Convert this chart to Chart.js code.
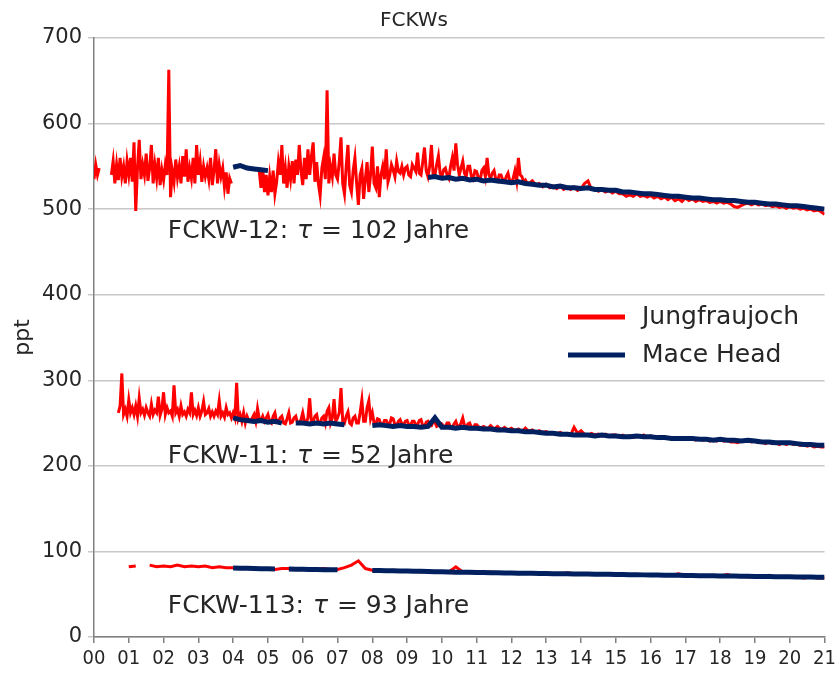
<!DOCTYPE html>
<html>
<head>
<meta charset="utf-8">
<script src="https://cdn.jsdelivr.net/npm/chart.js@4.4.0/dist/chart.umd.min.js"></script>
<style>
  html, body { margin: 0; padding: 0; background: #fff; }
</style>
</head>
<body>
<canvas id="chart" width="840" height="680"></canvas>
<script>
// tick labels for the years 2000..2021
const yearLabels = ['00','01','02','03','04','05','06','07','08','09','10',
                    '11','12','13','14','15','16','17','18','19','20','21'];

// Jungfraujoch CFC-12, noisy part: from 2000.0 every 0.05 year (one line = one year)
const jfj12aStart = 0, jfj12aStep = 0.05;
const jfj12a = [
  535, 552, 540, 548, null, null, null, null, null, null, 540, 556, 530, 552, 534, 560, 538, 550, 530, 556,
  540, 560, 532, 578, 498, 548, 581, 535, 552, 540, 565, 533, 548, 575, 530, 552, 536, 560, 528, 546,
  534, 552, 540, 663, 514, 545, 532, 558, 537, 550, 530, 562, 538, 570, 532, 548, 536, 560, 530, 575,
  540, 556, 532, 550, 538, 548, 535, 560, 528, 545, 570, 530, 552, 538, 548, 526, 543, 518, 536, 530,
  null, null, null, null, null, null, null, null, null, null, null, null, null, null, null, 545, 525, 548, 520, 540,
  516, 538, 520, 545, 518, 532, 555, 540, 575, 530, 548, 525, 550, 535, 556, 530, 558, 540, 575, 545,
  528, 560, 535, 570, 540, 562, 578, 532, 555, 530, 516, 548, 560, 535, 639, 530, 550, 538, 565, 540,
  535, 555, 584, 530, 518, 550, 575, 528, 520, 545, 560, 530, 505, 540, 548, 512, 535, 555, 520, 540,
  573, 530, 525, 550, 514, 540, 550, 535, 570, 532, 540, 552, 546, 538, 556, 544, 542, 550, 540, 548,
  550, 540, 538, 552, 548, 544, 566, 542, 540, 555, 572, 545, 538, 550, 575, 540, 540, 552, 562, 542,
  538, 546, 548, 540, 536, 550, 560, 545, 577, 552, 540, 548, 556, 542, 538, 550, 550, 538, 535, 545,
  544, 536, 534, 545, 548, 538, 560, 540, 536, 542, 545, 535, 533, 540, 540, 534, 532, 538, 542, 533,
  531, 536, 545, 533, 560, 540, 538, 532, 534, 530
];
// Jungfraujoch CFC-12, calmer part: from 2012.5 every 0.1 year
const jfj12bStart = 12.5, jfj12bStep = 0.1;
const jfj12b = [
  530, 533, 528, 530, 526,
  529, 525, 527, 524, 527, 523, 525, 523, 526, 522,
  524, 530, 533, 523, 524, 521, 523, 520, 522, 519,
  521, 518, 518, 515, 517, 515, 518, 515, 516, 514,
  516, 513, 515, 512, 514, 511, 514, 510, 512, 509,
  513, 510, 512, 509, 511, 509, 510, 508, 509, 507,
  509, 507, 508, 506, 503, 502, 504, 506, 507, 505,
  507, 505, 506, 504, 505, 503, 504, 502, 503, 501,
  503, 501, 502, 500, 501, 499, 500, 498, 499, 497,
  494
];

// Jungfraujoch CFC-11, noisy part: from 2000.0 every 0.05 year
const jfj11aStart = 0, jfj11aStep = 0.05;
const jfj11a = [
  null, null, null, null, null, null, null, null, null, null, null, null, null, null, 262, 270, 308, 260, 266, 258,
  277, 262, 268, 260, 270, 258, 279, 262, 266, 259, 268, 262, 258, 272, 260, 265, 262, 281, 259, 266,
  286, 260, 268, 262, 264, 258, 294, 262, 266, 258, 270, 260, 263, 258, 266, 262, 286, 260, 265, 259,
  268, 258, 264, 275, 260, 262, 267, 258, 263, 258, 264, 260, 276, 258, 262, 257, 268, 260, 262, 256,
  262, 256, 297, 255, 260, 252, 262, 250, 258, 253, 252, 256, 260, 252, 267, 255, 253, 258, 252, 256,
  260, 252, 250, 258, 262, 251, 252, 256, 258, 250, 249, 255, 262, 250, 251, 256, 258, 250, 250, 254,
  262, 252, 250, 256, 279, 251, 252, 258, 260, 250, 249, 256, 258, 250, 264, 268, 250, 256, 278, 252,
  256, 262, 291, 252, 250, 258, 263, 250, 248, 256, 258, 250, 250, 262, 277, 252, 252, 268, 276, 255,
  262, 250, 249, 255, 254, 248, 248, 253, 253, 249, 249, 256, 255, 248, 247, 252, 254, 249, 248, 252,
  253, 248, 247, 252, 252, 248, 248, 253, 254, 247, 246, 251, 252, 247, 247, 252, 251, 246, 247, 250,
  249, 245, 246, 250, 250, 245, 245, 249, 252, 246, 246, 250, 256, 247, 245, 249, 250, 245, 244, 248
];
// Jungfraujoch CFC-11, calmer part: from 2011.0 every 0.1 year
const jfj11bStart = 11, jfj11bStep = 0.1;
const jfj11b = [
  248, 244, 246, 243, 247, 243, 246, 242, 245, 242,
  244, 241, 243, 240, 244, 240, 242, 239, 241, 239,
  240, 238, 239, 237, 239, 237, 238, 236, 245, 238,
  241, 237, 236, 238, 236, 237, 235, 237, 235, 236,
  236, 234, 236, 234, 235, 233, 235, 234, 236, 233,
  235, 233, 234, 232, 234, 232, 233, 231, 233, 231,
  233, 231, 232, 230, 232, 230, 231, 229, 231, 229,
  231, 229, 230, 228, 228, 227, 229, 230, 229, 228,
  229, 227, 228, 226, 228, 226, 227, 225, 227, 225,
  227, 225, 226, 224, 225, 223, 224, 222, 223, 222,
  222
];

// Jungfraujoch CFC-113, from 2000.0 every 0.2 year
const jfj113Start = 0, jfj113Step = 0.2;
const jfj113 = [
  null, null, null, null, null,
  82, 83, null, 84, 82,
  83, 82, 84, 82, 83,
  82, 83, 81, 82, 81,
  81, 80, 81, 80, 80,
  80, 79, 80, 80, 79,
  79, 80, 79, 80, 79,
  79, 81, 84, 89, 80,
  78, 78, 77, 78, 77,
  77, 77, 76, 77, 76,
  76, 76, 82, 76, 75,
  75, 75, 76, 75, 75,
  75, 74, 75, 74, 75,
  74, 74, 73, 75, 74,
  73, 74, 73, 73, 74,
  73, 73, 72, 73, 72,
  72, 73, 72, 72, 74,
  72, 72, 71, 72, 71,
  71, 73, 71, 71, 70,
  71, 70, 72, 70, 70,
  70, 70, 69, 70, 69,
  69
];

// Mace Head CFC-12, from 2004.0 every 0.2 year
const mhd12Start = 4, mhd12Step = 0.2;
const mhd12 = [
  549, 551, 548, 547, 546,
  545, null, null, null, null,
  null, null, null, null, null,
  null, null, null, null, null,
  null, null, null, null, null,
  null, null, null, 537, 538,
  536, 537, 535, 536, 534,
  535, 533, 534, 533, 532,
  531, 532, 530, 529, 528,
  528, 526, 527, 525, 525,
  524, 525, 523, 523, 522,
  522, 520, 520, 519, 518,
  518, 517, 516, 515, 515,
  514, 513, 513, 512, 511,
  511, 510, 510, 509, 508,
  508, 507, 506, 506, 505,
  504, 504, 503, 502, 501,
  500
];

// Mace Head CFC-11, from 2004.0 every 0.2 year
const mhd11Start = 4, mhd11Step = 0.2;
const mhd11 = [
  256, 254, 253, 252, 253,
  251, 252, 250, null, 250,
  250, 249, 250, 249, 250,
  249, 248, null, null, null,
  247, 248, 247, 246, 247,
  246, 246, 245, 246, 256,
  245, 245, 244, 245, 244,
  244, 243, 243, 242, 242,
  241, 241, 240, 240, 239,
  238, 238, 237, 237, 236,
  236, 236, 235, 236, 235,
  235, 234, 234, 235, 234,
  234, 233, 233, 232, 232,
  232, 232, 231, 231, 230,
  231, 230, 230, 229, 230,
  229, 228, 228, 227, 227,
  227, 226, 225, 225, 224,
  224
];

// Mace Head CFC-113, from 2004.0 every 0.2 year
const mhd113Start = 4, mhd113Step = 0.2;
const mhd113 = [
  80.5, 80.3, 80.2, 80.0, 79.8,
  79.8, 79.6, null, 79.4, 79.2,
  79.1, 79.0, 78.8, 78.7, 78.6,
  78.5, null, null, null, null,
  77.8, 77.6, 77.5, 77.3, 77.1,
  77.0, 76.8, 76.7, 76.5, 76.3,
  76.2, 76.0, 75.8, 75.7, 75.6,
  75.5, 75.3, 75.2, 75.0, 74.9,
  74.8, 74.6, 74.5, 74.4, 74.3,
  74.2, 74.0, 73.9, 73.8, 73.7,
  73.6, 73.5, 73.4, 73.3, 73.2,
  73.0, 72.9, 72.8, 72.7, 72.6,
  72.5, 72.4, 72.3, 72.2, 72.1,
  72.0, 71.8, 71.7, 71.6, 71.5,
  71.4, 71.3, 71.2, 71.0, 70.9,
  70.8, 70.7, 70.6, 70.5, 70.4,
  70.3, 70.2, 70.1, 70.0, 69.9,
  69.8
];

// gas labels and lifetimes written into the plot
const gasNames = ['FCKW-12', 'FCKW-11', 'FCKW-113'];
const lifetimes = [102, 52, 93];

const RED = '#ff0000';
const NAVY = '#002060';
const TEXT = '#262626';

// one series -> {x, y} points
function toPoints(start, step, values) {
  return values.map((v, i) => ({ x: Math.round((start + i * step) * 100) / 100, y: v }));
}
// null point so separate gases don't get joined
const BREAK = { x: 21, y: null };

const redPoints = [].concat(
  toPoints(jfj12aStart, jfj12aStep, jfj12a),
  toPoints(jfj12bStart, jfj12bStep, jfj12b), [BREAK],
  toPoints(jfj11aStart, jfj11aStep, jfj11a),
  toPoints(jfj11bStart, jfj11bStep, jfj11b), [BREAK],
  toPoints(jfj113Start, jfj113Step, jfj113)
);
const bluePoints = [].concat(
  toPoints(mhd12Start, mhd12Step, mhd12), [BREAK],
  toPoints(mhd11Start, mhd11Step, mhd11), [BREAK],
  toPoints(mhd113Start, mhd113Step, mhd113)
);

// where the gas notes sit (year, ppt at text middle)
const notePos = [[2.12, 474], [2.12, 211], [2.12, 36]];

const notesPlugin = {
  id: 'notes',
  afterDatasetsDraw(chart) {
    const ctx = chart.ctx;
    const xs = chart.scales.x, ys = chart.scales.y;
    const plain = '25px "DejaVu Sans", sans-serif';
    const ital = 'italic 25px "DejaVu Sans", sans-serif';
    ctx.save();
    ctx.fillStyle = TEXT;
    ctx.textBaseline = 'middle';
    ctx.textAlign = 'left';
    gasNames.forEach((name, i) => {
      let x = xs.getPixelForValue(notePos[i][0]);
      const y = ys.getPixelForValue(notePos[i][1]);
      const parts = [[name + ': ', plain], ['\u03c4', ital], [' = ' + lifetimes[i] + ' Jahre', plain]];
      parts.forEach(([t, f]) => {
        ctx.font = f;
        ctx.fillText(t, x, y);
        x += ctx.measureText(t).width + 1;
      });
    });

    // legend inside the plot
    ctx.font = plain;
    chart.data.datasets.forEach((ds, i) => {
      const y = 317 + i * 38;
      ctx.strokeStyle = ds.borderColor;
      ctx.lineWidth = 5;
      ctx.beginPath();
      ctx.moveTo(568, y);
      ctx.lineTo(625, y);
      ctx.stroke();
      ctx.fillText(ds.label, 642, y);
    });
    ctx.restore();
  }
};

new Chart(document.getElementById('chart'), {
  type: 'line',
  data: {
    datasets: [
      { label: 'Jungfraujoch', data: redPoints, borderColor: RED, backgroundColor: RED,
        borderWidth: 3, pointRadius: 0, tension: 0, order: 2 },
      { label: 'Mace Head', data: bluePoints, borderColor: NAVY, backgroundColor: NAVY,
        borderWidth: 5, pointRadius: 0, tension: 0, order: 1 }
    ]
  },
  options: {
    responsive: false,
    animation: false,
    spanGaps: false,
    layout: { padding: { left: 0, right: 12, top: 0, bottom: 0 } },
    plugins: {
      legend: { display: false },
      tooltip: { enabled: false },
      title: {
        display: true,
        text: 'FCKWs',
        color: TEXT,
        font: { family: '"DejaVu Sans", sans-serif', size: 20, weight: 'normal' },
        padding: { top: 9, bottom: 5 }
      }
    },
    scales: {
      x: {
        type: 'linear',
        min: 0,
        max: 21,
        afterFit(scale) { scale.height = 43; },
        ticks: {
          stepSize: 1,
          autoSkip: false,
          maxRotation: 0,
          color: TEXT,
          padding: 4,
          font: { family: '"Liberation Sans Narrow", "DejaVu Sans Condensed", sans-serif', size: 20 },
          callback: (v) => yearLabels[v]
        },
        grid: { drawOnChartArea: false, drawTicks: true, tickLength: 6, tickColor: '#808080', lineWidth: 1.5 },
        border: { color: '#808080', width: 1.5 }
      },
      y: {
        min: 0,
        max: 700,
        afterFit(scale) { scale.width = 94; },
        title: {
          display: true,
          text: 'ppt',
          color: TEXT,
          font: { family: '"DejaVu Sans", sans-serif', size: 22 },
          padding: { top: 10, bottom: 0 }
        },
        ticks: {
          stepSize: 100,
          color: TEXT,
          padding: 6,
          font: { family: '"DejaVu Sans", sans-serif', size: 21 }
        },
        grid: { color: '#c8c8c8', lineWidth: 1.5, tickLength: 6, tickColor: '#c8c8c8' },
        border: { color: '#808080', width: 1.5 }
      }
    }
  },
  plugins: [notesPlugin]
});
</script>
</body>
</html>
